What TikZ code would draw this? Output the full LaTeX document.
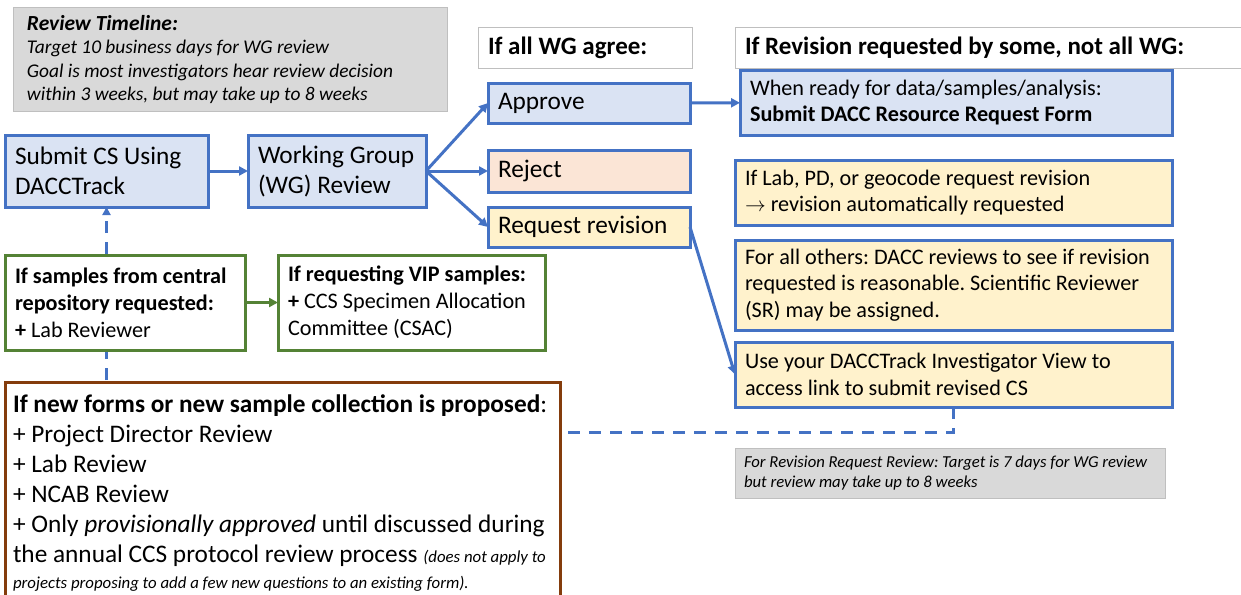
\documentclass[tikz,border=0pt]{standalone}
\usepackage{fontspec}
\setmainfont{Carlito}
\frenchspacing
\usetikzlibrary{arrows.meta,positioning}
\definecolor{flowblue}{RGB}{68,114,196}
\definecolor{boxblue}{RGB}{218,227,243}
\definecolor{boxpeach}{RGB}{251,229,214}
\definecolor{boxyellow}{RGB}{255,242,204}
\definecolor{flowgreen}{RGB}{84,130,53}
\definecolor{revbrown}{RGB}{132,60,12}
\definecolor{notegray}{RGB}{217,217,217}
\definecolor{edgegray}{RGB}{191,191,191}
\pgfdeclarelayer{background}
\pgfsetlayers{background,main}
\newcommand{\bigsize}{\fontsize{25.3}{30}\selectfont}
\newcommand{\headsize}{\fontsize{25}{29}\selectfont}
\newcommand{\midsize}{\fontsize{22.2}{26.8}\selectfont}
\newcommand{\greensize}{\fontsize{22.2}{27}\selectfont}
\newcommand{\notesize}{\fontsize{19.4}{23.5}\selectfont}
\newcommand{\tinysize}{\fontsize{16.8}{20}\selectfont}

\begin{document}
\begin{tikzpicture}[x=1pt, y=-1pt,
  box/.style={rectangle, anchor=north west, outer sep=0pt, inner xsep=10pt, inner ysep=3pt, align=flush left},
  bluebox/.style={box, draw=flowblue, fill=boxblue, line width=3pt},
  peachbox/.style={box, draw=flowblue, fill=boxpeach, line width=3pt},
  yellowbox/.style={box, draw=flowblue, fill=boxyellow, line width=3pt},
  greenbox/.style={box, draw=flowgreen, fill=white, line width=3pt, font=\greensize},
  brownbox/.style={box, draw=revbrown, fill=white, line width=3pt, inner xsep=8pt, inner ysep=6pt, font=\bigsize},
  headbox/.style={box, draw=edgegray, fill=white, line width=1pt, font=\headsize\bfseries},
  notebox/.style={box, draw=edgegray, fill=notegray, line width=1pt, font=\itshape},
  flow/.style={-{Triangle[length=9pt,width=9pt]}, line width=3pt, draw=flowblue},
  greenflow/.style={flow, draw=flowgreen},
  backflow/.style={flow, -{Triangle[length=8pt,width=8pt]}, dash pattern=on 12pt off 9pt}]
\useasboundingbox (0,0) rectangle (1241,594);

% Review timeline note
\node[notebox, text width=406, minimum height=103, inner xsep=14pt, font=\notesize\itshape] (timeline) at (13,8)
  {{\bfseries\fontsize{21.5}{24}\selectfont Review Timeline:}\\
   Target 10 business days for WG review\\
   Goal is most investigators hear review decision\\
   within 3 weeks, but may take up to 8 weeks};

% Column headers
\node[headbox, text width=194, minimum height=40] (agree) at (478,28) {If all WG agree:};
\node[headbox, text width=490, minimum height=40] (revhead) at (735,28) {If Revision requested by some, not all WG:};

% Main flow
\node[bluebox, text width=183, minimum height=72, font=\bigsize] (submit) at (5,135) {Submit CS Using\\DACCTrack};
\node[bluebox, text width=158, minimum height=72, font=\bigsize] (wg) at (248,135) {Working Group\\(WG) Review};

% Decisions
\node[bluebox, text width=182, minimum height=40, font=\bigsize] (approve) at (488,83) {Approve};
\node[peachbox, text width=182, minimum height=42, font=\bigsize] (reject) at (488,150) {Reject};
\node[yellowbox, text width=182, minimum height=40, font=\bigsize] (req) at (488,207) {Request revision};

% Right column
\node[bluebox, text width=412, minimum height=65, font=\midsize] (dacc) at (740,70)
  {When ready for data/samples/analysis:\\\textbf{Submit DACC Resource Request Form}};
\node[yellowbox, text width=417, minimum height=65, font=\midsize] (lab) at (735,160)
  {If Lab, PD, or geocode request revision\\$\rightarrow$ revision automatically requested};
\node[yellowbox, text width=417, minimum height=90, font=\midsize] (others) at (735,240)
  {For all others: DACC reviews to see if revision\\requested is reasonable. Scientific Reviewer\\(SR) may be assigned.};
\node[yellowbox, text width=417, minimum height=65, font=\midsize] (use) at (735,342)
  {Use your DACCTrack Investigator View to\\access link to submit revised CS};
\node[notebox, text width=412, minimum height=50, inner xsep=9pt, font=\fontsize{16.7}{20}\selectfont\itshape] (revnote) at (735,448)
  {For Revision Request Review: Target is 7 days for WG review\\but review may take up to 8 weeks};

% Extra reviewers
\node[greenbox, text width=220, minimum height=95] (samples) at (5,255)
  {\textbf{If samples from central}\\\textbf{repository requested:}\\\textbf{+} Lab Reviewer};
\node[greenbox, text width=247, minimum height=95] (vip) at (278,255)
  {\textbf{If requesting VIP samples:}\\\textbf{+} CCS Specimen Allocation\\Committee (CSAC)};
\node[brownbox, text width=539, minimum height=222] (newforms) at (5,382)
  {\textbf{If new forms or new sample collection is proposed}:\\
   + Project Director Review\\
   + Lab Review\\
   + NCAB Review\\
   + Only \textit{provisionally approved} until discussed during\\
   the annual CCS protocol review process {\tinysize\itshape (does not apply to}\\[-4pt]
   {\tinysize\itshape projects proposing to add a few new questions to an existing form).}};

% Connectors
\draw[flow] (submit) -- (wg);
\draw[flow] (wg.east) -- (approve.west);
\draw[flow] (wg.east) -- (reject.west);
\draw[flow] (wg.east) -- (req.west);
\draw[flow] (approve) -- (dacc);
\draw[flow] (req.east) -- (use.west);
\draw[greenflow] (samples) -- (vip);

% Resubmission loop
\begin{pgfonlayer}{background}
\draw[backflow] (use.south) -- ++(0,25) -| (submit.south);
\end{pgfonlayer}
\end{tikzpicture}
\end{document}
